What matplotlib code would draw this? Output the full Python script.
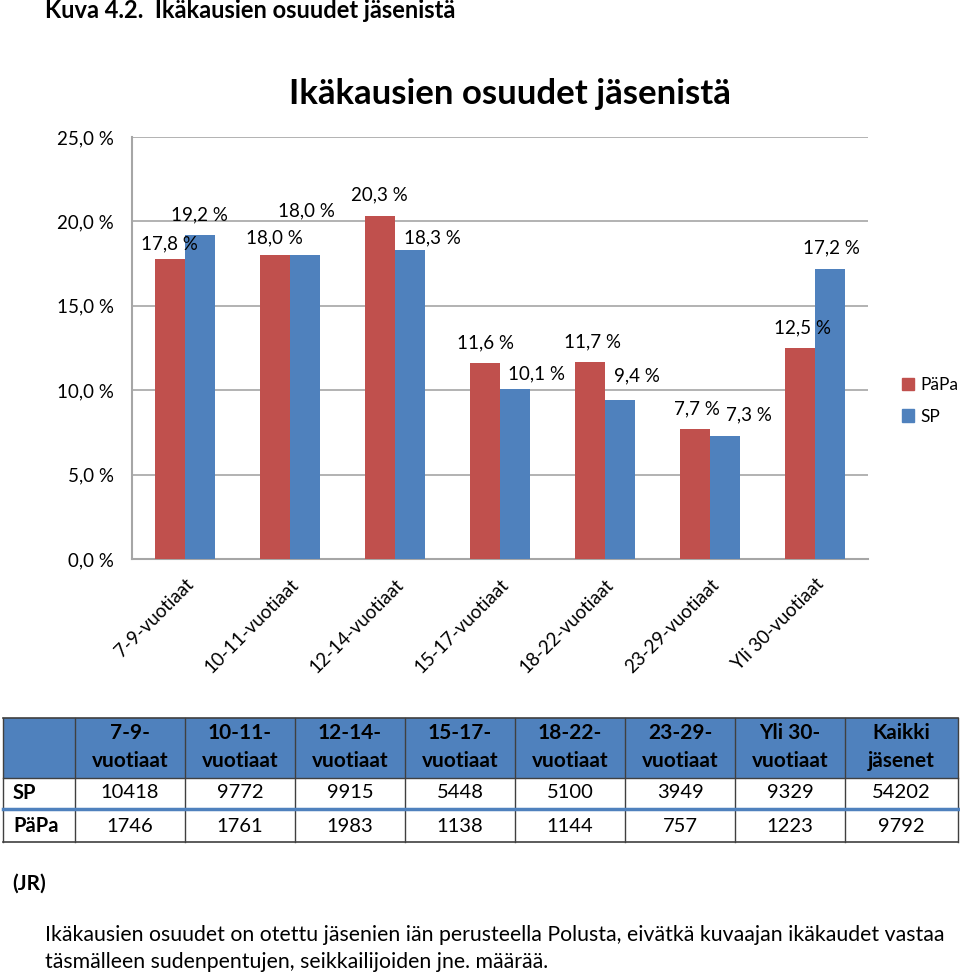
import matplotlib.pyplot as plt
import matplotlib.patches as mpatches
import numpy as np

plt.rcParams['font.family'] = ['Lato', 'DejaVu Sans']

# data
categories = ['7-9-vuotiaat', '10-11-vuotiaat', '12-14-vuotiaat', '15-17-vuotiaat',
              '18-22-vuotiaat', '23-29-vuotiaat', 'Yli 30-vuotiaat']
papa_pct = [17.8, 18.0, 20.3, 11.6, 11.7, 7.7, 12.5]
sp_pct = [19.2, 18.0, 18.3, 10.1, 9.4, 7.3, 17.2]

table_head = ['7-9-\nvuotiaat', '10-11-\nvuotiaat', '12-14-\nvuotiaat', '15-17-\nvuotiaat',
              '18-22-\nvuotiaat', '23-29-\nvuotiaat', 'Yli 30-\nvuotiaat', 'Kaikki\njäsenet']
sp_counts = [10418, 9772, 9915, 5448, 5100, 3949, 9329, 54202]
papa_counts = [1746, 1761, 1983, 1138, 1144, 757, 1223, 9792]

# label offsets in pixels (Excel-style placement)
papa_off = [(0, 15), (0, 17), (0, 21), (1, 20), (2, 20), (2, 20), (2, 20)]
sp_off = [(0, 20), (2, 44), (23, 12), (21, 15), (17, 24), (24, 21), (1, 21)]

red = '#C0504D'
blue = '#4F81BD'
grid = '#A6A6A6'

fig = plt.figure(figsize=(9.6, 9.75), dpi=100)
ax = fig.add_axes([132/960, 1-559/975, (868-132)/960, (559-137)/975])

x = np.arange(len(categories))
w = 0.286
b1 = ax.bar(x - w/2, papa_pct, w, color=red, label='PäPa', zorder=3)
b2 = ax.bar(x + w/2, sp_pct, w, color=blue, label='SP', zorder=3)

def fmt(v):
    return ('%.1f %%' % v).replace('.', ',')

for bars, vals, offs in ((b1, papa_pct, papa_off), (b2, sp_pct, sp_off)):
    for r, v, (dx, dy) in zip(bars, vals, offs):
        ax.annotate(fmt(v), (r.get_x() + r.get_width()/2, v),
                    xytext=(dx*0.72, dy*0.72), textcoords='offset points',
                    ha='center', va='center', fontsize=13.5, color='black',
                    zorder=4)

ax.set_xlim(-0.5, len(categories) - 0.5)
ax.set_ylim(0, 25)
ax.set_yticks(np.arange(0, 26, 5))
ax.set_yticklabels([fmt(v) for v in np.arange(0, 26, 5)], fontsize=13.5)
ax.set_xticks(x)
ax.set_xticklabels(categories, rotation=45, ha='right', va='top',
                   rotation_mode='anchor', fontsize=13.5)
ax.tick_params(axis='y', length=0, pad=13)
ax.tick_params(axis='x', length=0, pad=12)
ax.yaxis.grid(True, color=grid, linewidth=1.2, zorder=0)
for s in ['top', 'right']:
    ax.spines[s].set_visible(False)
ax.spines['left'].set_color(grid)
ax.spines['bottom'].set_color(grid)
ax.spines['left'].set_linewidth(1.5)
ax.spines['bottom'].set_linewidth(1.5)

ax.set_title('Ikäkausien osuudet jäsenistä', fontsize=25, pad=24, x=0.513,
             fontweight='bold', color='black')

fig.legend(handles=[mpatches.Patch(color=red, label='PäPa'),
                    mpatches.Patch(color=blue, label='SP')],
           loc='center left', bbox_to_anchor=(0.932, 0.589), frameon=False,
           fontsize=12.5, handlelength=0.7, handleheight=0.7, handletextpad=0.4,
           labelspacing=0.9, borderaxespad=0)

# overlay in pixel coords for heading, table and footnote
ov = fig.add_axes([0, 0, 1, 1], zorder=-1)
ov.set_xlim(0, 960)
ov.set_ylim(975, 0)
ov.axis('off')

ov.text(45, 10, 'Kuva 4.2.  Ikäkausien osuudet jäsenistä', fontsize=17,
        fontweight='bold', va='center', ha='left')

cols = [3, 75, 185, 295, 405, 515, 625, 735, 845, 958]
top, hb, r1, r2 = 718, 778, 809, 842
ov.add_patch(mpatches.Rectangle((cols[0], top), cols[-1]-cols[0], hb-top,
                                facecolor=blue, edgecolor='none'))
for i, h in enumerate(table_head):
    cx = (cols[i+1] + cols[i+2]) / 2
    a, b = h.split('\n')
    ov.text(cx, 733, a, ha='center', va='center', fontsize=15, fontweight='bold')
    ov.text(cx, 761, b, ha='center', va='center', fontsize=15, fontweight='bold')
for i in range(8):
    cx = (cols[i+1] + cols[i+2]) / 2
    ov.text(cx, 793, str(sp_counts[i]), ha='center', va='center', fontsize=14.5)
    ov.text(cx, 826, str(papa_counts[i]), ha='center', va='center', fontsize=14.5)
ov.text(13, 793, 'SP', ha='left', va='center', fontsize=14.5, fontweight='bold')
ov.text(13, 826, 'PäPa', ha='left', va='center', fontsize=14.5, fontweight='bold')

line_c = '#404040'
for cx in cols:
    ov.plot([cx, cx], [top, r2], color=line_c, lw=1)
ov.plot([cols[0], cols[-1]], [top, top], color=line_c, lw=1.2)
ov.plot([cols[0], cols[-1]], [hb, hb], color=line_c, lw=1)
ov.plot([cols[0], cols[-1]], [r1, r1], color=blue, lw=2.5)
ov.plot([cols[0], cols[-1]], [r2, r2], color=line_c, lw=1.2)

ov.text(12, 884, '(JR)', fontsize=15, fontweight='bold', va='center')
ov.text(45, 935, 'Ikäkausien osuudet on otettu jäsenien iän perusteella Polusta, '
        'eivätkä kuvaajan ikäkaudet vastaa', fontsize=15.3, va='center')
ov.text(45, 962, 'täsmälleen sudenpentujen, seikkailijoiden jne. määrää.',
        fontsize=15.3, va='center')

fig.savefig('out.png', dpi=100)
